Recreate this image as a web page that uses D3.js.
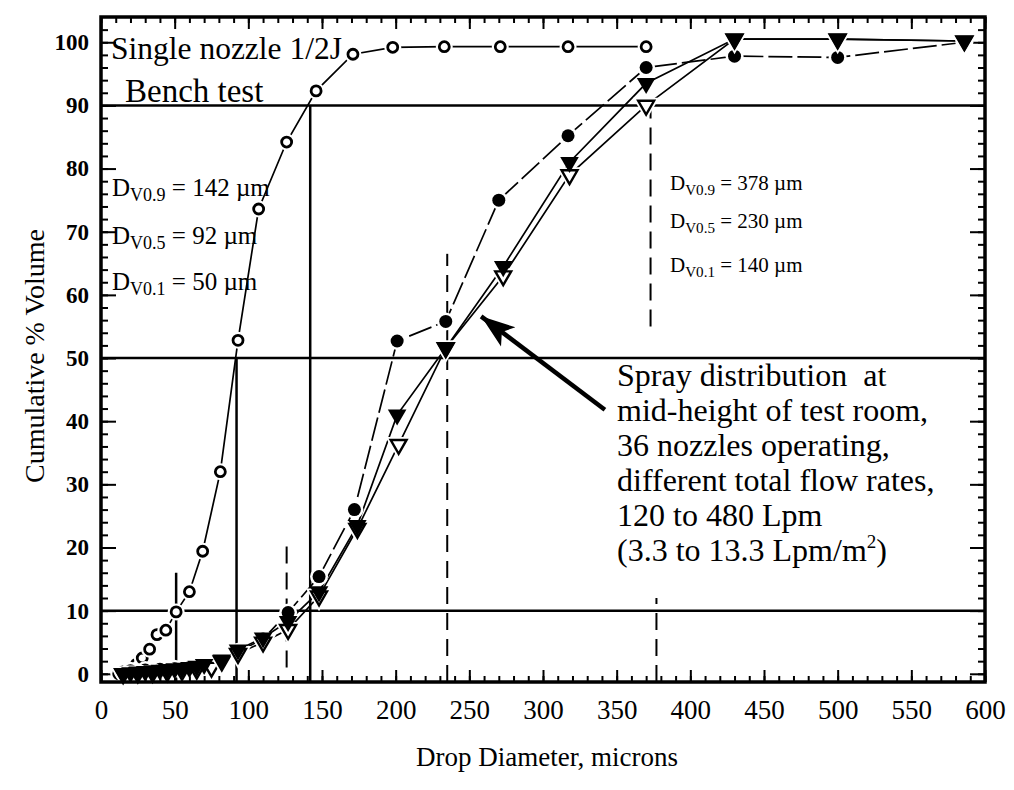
<!DOCTYPE html>
<html>
<head>
<meta charset="utf-8">
<script src="https://cdn.jsdelivr.net/npm/d3@7"></script>
<style>
  body { margin: 0; background: #fff; }
  text { font-family: "Liberation Serif", "Times New Roman", serif; fill: #000; white-space: pre; }
</style>
</head>
<body>
<div id="chart"></div>
<script>
////////////////////////////////////////////////////////////
//////////////////////// Data //////////////////////////////
////////////////////////////////////////////////////////////

// Single nozzle bench test (open circles)
var benchX = [12, 16, 20, 24, 28, 33, 38, 44, 51, 60, 69, 81, 93, 107, 126, 146, 171, 198, 233, 271, 317, 370];
var benchY = [0, 0.3, 0.8, 1.5, 2.5, 3.9, 6.2, 6.9, 9.8, 13, 19.4, 32, 52.8, 73.6, 84.2, 92.3, 98.1, 99.2, 99.3, 99.3, 99.3, 99.3];

// Test room, filled circles
var dotX = [15, 20, 30, 40, 50, 60, 70, 82, 93, 110, 127, 148, 172, 201, 234, 270, 317, 370, 430, 500, 586];
var dotY = [0.3, 0.5, 0.6, 0.7, 0.8, 1, 1.3, 2, 3.5, 5.5, 9.7, 15.4, 26, 52.7, 55.8, 75, 85.2, 96, 97.8, 97.6, 100];

// Test room, filled triangles
var triX = [15, 20, 25, 30, 35, 40, 45, 50, 55, 60, 65, 70, 82, 93, 110, 127, 148, 174, 201, 234, 273, 318, 370, 430, 500, 586];
var triY = [0, 0.2, 0.3, 0.4, 0.5, 0.6, 0.7, 0.8, 0.9, 1, 1.2, 1.5, 2.2, 3.8, 5.7, 8.3, 13, 23.5, 41, 51.6, 64.5, 81, 93.5, 100.5, 100.5, 100.2];

// Test room, open triangles
var openTriX = [15, 25, 35, 45, 55, 65, 75, 82, 93, 110, 127, 148, 174, 202, 234, 273, 318, 370, 430, 500, 586];
var openTriY = [0, 0.1, 0.2, 0.3, 0.5, 0.7, 1, 2, 3.2, 5, 7, 12.3, 23, 36.3, 51.6, 63, 79, 90, 100.5, 100.5, 100.2];

// Reference lines
var hLines = [10, 50, 90];
var vSolidX = [51, 92, 142];
var vSolidTop = [16, 50, 90];
var vDashX = [126, 235, 373, 377];
var vDashFrom = [1, -1.3, 55, -1.3];
var vDashTo = [21, 66.5, 90, 12];

var xTicks = [0, 50, 100, 150, 200, 250, 300, 350, 400, 450, 500, 550, 600];
var yTicks = [0, 10, 20, 30, 40, 50, 60, 70, 80, 90, 100];

var sprayLines = ["Spray distribution  at", "mid-height of test room,", "36 nozzles operating,",
                  "different total flow rates,", "120 to 480 Lpm"];

////////////////////////////////////////////////////////////
//////////////////////// Set-up ////////////////////////////
////////////////////////////////////////////////////////////

var width = 1014, height = 790;
var frame = { left: 101, right: 985, top: 17, bottom: 682 };

var svg = d3.select("#chart").append("svg")
    .attr("width", width)
    .attr("height", height);

svg.append("rect").attr("width", width).attr("height", height).attr("fill", "#fff");

var x = d3.scaleLinear().domain([0, 600]).range([frame.left, frame.right]);
var y = d3.scaleLinear().domain([-1.3, 104]).range([frame.bottom, frame.top]);

////////////////////////////////////////////////////////////
//////////////////////// Axes //////////////////////////////
////////////////////////////////////////////////////////////

function styleAxis(g) {
    g.select(".domain").remove();
    g.selectAll(".tick line").attr("stroke", "#000").attr("stroke-width", 2);
}

// bottom: minor every 10, major every 50
svg.append("g").attr("transform", "translate(0," + frame.bottom + ")")
    .call(d3.axisBottom(x).ticks(60).tickSize(-6).tickFormat(""))
    .call(styleAxis);
svg.append("g").attr("transform", "translate(0," + frame.bottom + ")")
    .call(d3.axisBottom(x).tickValues(xTicks).tickSize(-12).tickPadding(18))
    .call(styleAxis)
    .call(function (g) {
        g.selectAll(".tick text").attr("font-size", 27)
            .style("font-family", "Liberation Serif");
    });

// top
svg.append("g").attr("transform", "translate(0," + frame.top + ")")
    .call(d3.axisTop(x).ticks(60).tickSize(-6).tickFormat(""))
    .call(styleAxis);
svg.append("g").attr("transform", "translate(0," + frame.top + ")")
    .call(d3.axisTop(x).tickValues(xTicks).tickSize(-12).tickFormat(""))
    .call(styleAxis);

// left: minor every 2, major every 10
svg.append("g").attr("transform", "translate(" + frame.left + ",0)")
    .call(d3.axisLeft(y).tickValues(d3.range(0, 104, 2)).tickSize(-7).tickFormat(""))
    .call(styleAxis);
svg.append("g").attr("transform", "translate(" + frame.left + ",0)")
    .call(d3.axisLeft(y).tickValues(yTicks).tickSize(-15).tickPadding(12))
    .call(styleAxis)
    .call(function (g) {
        g.selectAll(".tick text").attr("font-size", 23).attr("font-weight", "bold")
            .style("font-family", "Liberation Serif");
    });

// right
svg.append("g").attr("transform", "translate(" + frame.right + ",0)")
    .call(d3.axisRight(y).tickValues(d3.range(0, 104, 2)).tickSize(-7).tickFormat(""))
    .call(styleAxis);
svg.append("g").attr("transform", "translate(" + frame.right + ",0)")
    .call(d3.axisRight(y).tickValues(yTicks).tickSize(-15).tickFormat(""))
    .call(styleAxis);

////////////////////////////////////////////////////////////
//////////////////// Reference lines ///////////////////////
////////////////////////////////////////////////////////////

svg.selectAll(".hline").data(hLines).enter().append("line")
    .attr("x1", frame.left).attr("x2", frame.right)
    .attr("y1", function (d) { return y(d); }).attr("y2", function (d) { return y(d); })
    .attr("stroke", "#000").attr("stroke-width", 2.5);

svg.selectAll(".vline").data(vSolidX).enter().append("line")
    .attr("x1", function (d) { return x(d); }).attr("x2", function (d) { return x(d); })
    .attr("y1", frame.bottom).attr("y2", function (d, i) { return y(vSolidTop[i]); })
    .attr("stroke", "#000").attr("stroke-width", 2.5);

svg.selectAll(".vdash").data(vDashX).enter().append("line")
    .attr("x1", function (d) { return x(d); }).attr("x2", function (d) { return x(d); })
    .attr("y1", function (d, i) { return y(vDashFrom[i]); })
    .attr("y2", function (d, i) { return y(vDashTo[i]); })
    .attr("stroke", "#000").attr("stroke-width", 2)
    .attr("stroke-dasharray", "17,9");

////////////////////////////////////////////////////////////
//////////////////////// Series ////////////////////////////
////////////////////////////////////////////////////////////

var line = d3.line().x(function (d) { return x(d[0]); }).y(function (d) { return y(d[1]); });

var series = [
    { xs: benchX, ys: benchY, type: "openCircle", dash: null },
    { xs: dotX, ys: dotY, type: "dot", dash: "24,5" },
    { xs: openTriX, ys: openTriY, type: "openTri", dash: null },
    { xs: triX, ys: triY, type: "tri", dash: null }
];

series.forEach(function (s) {
    s.points = s.xs.map(function (v, i) { return [v, s.ys[i]]; });
    svg.append("path")
        .attr("d", line(s.points))
        .attr("fill", "none")
        .attr("stroke", "#000")
        .attr("stroke-width", 1.7)
        .attr("stroke-dasharray", s.dash);
});

var triPath = d3.symbol().type(d3.symbolTriangle);

series.forEach(function (s) {
    var g = svg.append("g");
    var pts = g.selectAll("g").data(s.points).enter().append("g")
        .attr("transform", function (d) { return "translate(" + x(d[0]) + "," + y(d[1]) + ")"; });

    if (s.type === "openCircle") {
        pts.append("circle").attr("r", 8.5).attr("fill", "#fff");
        pts.append("circle").attr("r", 5).attr("fill", "#fff")
            .attr("stroke", "#000").attr("stroke-width", 2.8);
    } else if (s.type === "dot") {
        pts.append("circle").attr("r", 9).attr("fill", "#fff");
        pts.append("circle").attr("r", 6.5).attr("fill", "#000");
    } else if (s.type === "openTri") {
        pts.append("path").attr("d", triPath.size(300)()).attr("fill", "#fff")
            .attr("transform", "rotate(180)");
        pts.append("path").attr("d", triPath.size(110)()).attr("fill", "#fff")
            .attr("stroke", "#000").attr("stroke-width", 2.4)
            .attr("transform", "rotate(180)");
    } else {
        pts.append("path").attr("d", triPath.size(150)()).attr("fill", "#000")
            .attr("transform", "rotate(180)");
    }
});

////////////////////////////////////////////////////////////
////////////////////// Annotations /////////////////////////
////////////////////////////////////////////////////////////

svg.append("text").attr("x", 111).attr("y", 59).attr("font-size", 31.5).text("Single nozzle 1/2J");
svg.append("text").attr("x", 125).attr("y", 102).attr("font-size", 33).text("Bench test");

function dvLabel(px, py, sub, val, size) {
    var t = svg.append("text").attr("x", px).attr("y", py).attr("font-size", size);
    t.append("tspan").text("D");
    t.append("tspan").attr("font-size", size * 0.72).attr("dy", 5).text("V" + sub);
    t.append("tspan").attr("dy", -5).text(" = " + val + " \u00b5m");
}

dvLabel(112, 196, "0.9", 142, 25);
dvLabel(112, 244, "0.5", 92, 25);
dvLabel(112, 290, "0.1", 50, 25);

dvLabel(670, 190, "0.9", 378, 21);
dvLabel(670, 228, "0.5", 230, 21);
dvLabel(670, 272, "0.1", 140, 21);

var spray = svg.append("text").attr("font-size", 32);
sprayLines.forEach(function (s, i) {
    spray.append("tspan").attr("x", 617).attr("y", 386 + i * 35).text(s);
});
var last = spray.append("tspan").attr("x", 617).attr("y", 386 + 5 * 35);
last.append("tspan").text("(3.3 to 13.3 Lpm/m");
last.append("tspan").attr("font-size", 19).attr("dy", -13).text("2");
last.append("tspan").attr("dy", 13).text(")");

// arrow
svg.append("defs").append("marker")
    .attr("id", "head").attr("markerUnits", "userSpaceOnUse")
    .attr("markerWidth", 38).attr("markerHeight", 28)
    .attr("refX", 34).attr("refY", 14).attr("orient", "auto")
    .append("path").attr("d", "M0,2 L34,14 L0,26 L8,14 Z").attr("fill", "#000");

svg.append("line")
    .attr("x1", x(342)).attr("y1", y(41.8))
    .attr("x2", x(258)).attr("y2", y(56.6))
    .attr("stroke", "#000").attr("stroke-width", 4.5)
    .attr("marker-end", "url(#head)");

// frame
svg.append("rect")
    .attr("x", frame.left).attr("y", frame.top)
    .attr("width", frame.right - frame.left).attr("height", frame.bottom - frame.top)
    .attr("fill", "none").attr("stroke", "#000").attr("stroke-width", 3.5);

// axis titles
svg.append("text")
    .attr("transform", "translate(44,356) rotate(-90)")
    .attr("text-anchor", "middle").attr("font-size", 28)
    .text("Cumulative % Volume");

svg.append("text")
    .attr("x", 547).attr("y", 766)
    .attr("text-anchor", "middle").attr("font-size", 27)
    .text("Drop Diameter, microns");
</script>
</body>
</html>
